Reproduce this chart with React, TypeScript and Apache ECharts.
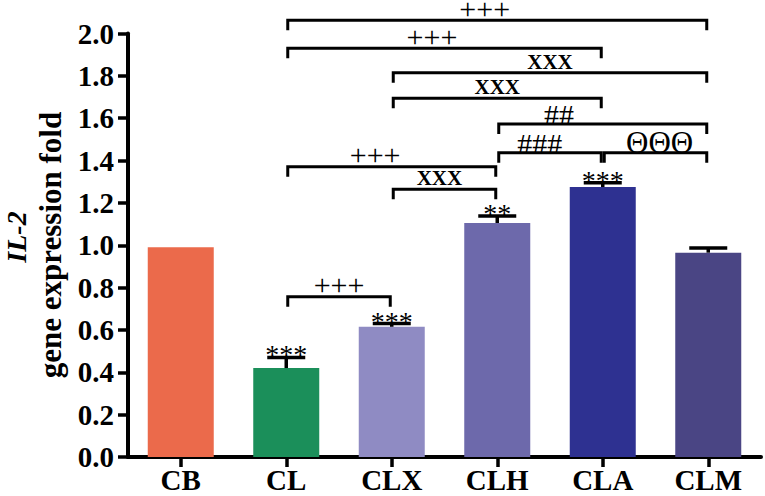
import React, { useEffect, useRef } from "react";
import * as echarts from "echarts";

const categories = ["CB", "CL", "CLX", "CLH", "CLA", "CLM"];
const means = [0.99, 0.42, 0.615, 1.105, 1.275, 0.965];
const errors = [0, 0.05, 0.015, 0.033, 0.02, 0.022];
const stars = ["", "***", "***", "**", "***", ""];
const barColors = ["#EB6A4B", "#1B8F5A", "#8F8BC3", "#6D69AB", "#2E3191", "#4A4584"];

const yMin = 0;
const yMax = 2.0;
const yStep = 0.2;

// significance brackets: from category index, to category index, height (fold units), label, label position along bracket
const bracketFrom = [1, 1, 2, 2, 3, 3, 4, 1, 2, 1];
const bracketTo = [5, 4, 5, 4, 5, 4, 5, 3, 3, 2];
const bracketHeight = [2.062, 1.93, 1.815, 1.694, 1.573, 1.437, 1.437, 1.371, 1.264, 0.757];
const bracketLabel = ["+++", "+++", "XXX", "XXX", "##", "###", "ΘΘΘ", "+++", "XXX", "+++"];
const bracketLabelPos = [0.47, 0.46, 0.5, 0.5, 0.29, 0.4, 0.54, 0.42, 0.45, 0.5];

const SERIF = "'Liberation Serif', 'Times New Roman', serif";

function labelStyle(label: string) {
  if (label.startsWith("X")) return { fontSize: 21, fontWeight: "bold", dy: -11 };
  if (label.startsWith("+")) return { fontSize: 30, fontWeight: "normal", dy: -12 };
  if (label.startsWith("#")) return { fontSize: 30, fontWeight: "normal", dy: -9.5 };
  return { fontSize: 31, fontWeight: "normal", dy: -10 };
}

export default function App() {
  const ref = useRef<HTMLDivElement>(null);
  useEffect(() => {
    const chart = echarts.init(ref.current!, null, { renderer: "svg" });
    const option: any = {
      animation: false,
      grid: { left: 128, right: 4, top: 33.5, bottom: 39, containLabel: false },
      xAxis: {
        type: "category",
        data: categories,
        axisLine: { show: true, lineStyle: { color: "#000", width: 4 } },
        axisTick: { show: true, alignWithLabel: true, length: 10, lineStyle: { color: "#000", width: 3.5 } },
        axisLabel: {
          color: "#000",
          fontFamily: SERIF,
          fontWeight: "bold",
          fontSize: 29,
          margin: 9,
          lineHeight: 28,
        },
      },
      yAxis: {
        type: "value",
        min: yMin,
        max: yMax,
        interval: yStep,
        axisLine: { show: true, lineStyle: { color: "#000", width: 4 } },
        axisTick: { show: true, length: 10, lineStyle: { color: "#000", width: 3.5 } },
        axisLabel: {
          color: "#000",
          fontFamily: SERIF,
          fontWeight: "bold",
          fontSize: 29,
          margin: 14,
          formatter: (v: number) => v.toFixed(1),
        },
        splitLine: { show: false },
      },
      graphic: [
        {
          type: "text",
          x: 16,
          y: 237,
          rotation: Math.PI / 2,
          style: {
            text: "IL-2",
            fontFamily: SERIF,
            fontStyle: "italic",
            fontWeight: "bold",
            fontSize: 28,
            lineHeight: 26,
            fill: "#000",
            align: "center",
            verticalAlign: "middle",
          },
        },
        {
          type: "text",
          x: 50,
          y: 245,
          rotation: Math.PI / 2,
          style: {
            text: "gene expression fold",
            fontFamily: SERIF,
            fontWeight: "bold",
            fontSize: 31,
            fill: "#000",
            align: "center",
            verticalAlign: "middle",
          },
        },
      ],
      series: [
        {
          type: "bar",
          barWidth: 66,
          data: means.map((v, i) => ({ value: v, itemStyle: { color: barColors[i] } })),
          z: 2,
        },
        {
          type: "custom",
          clip: false,
          z: 5,
          data: categories.map((_, i) => [i, means[i], errors[i]]),
          renderItem: (params: any, api: any) => {
            const i = api.value(0);
            const m = api.value(1);
            const e = api.value(2);
            const star = stars[params.dataIndex];
            const base = api.coord([i, m]);
            const top = api.coord([i, m + e]);
            const children: any[] = [];
            if (e > 0) {
              children.push({
                type: "line",
                shape: { x1: base[0], y1: base[1], x2: top[0], y2: top[1] },
                style: { stroke: "#000", lineWidth: 3.5 },
              });
              children.push({
                type: "line",
                shape: { x1: top[0] - 19, y1: top[1], x2: top[0] + 19, y2: top[1] },
                style: { stroke: "#000", lineWidth: 3.5 },
              });
            }
            if (star) {
              children.push({
                type: "text",
                x: top[0],
                y: top[1] - 2.5,
                style: {
                  text: star,
                  fontFamily: SERIF,
                  fontSize: 28,
                  fill: "#000",
                  align: "center",
                  verticalAlign: "middle",
                },
              });
            }
            return { type: "group", children };
          },
        },
        {
          type: "custom",
          clip: false,
          z: 6,
          data: bracketFrom.map((f, k) => [f, bracketTo[k], bracketHeight[k], bracketLabelPos[k]]),
          renderItem: (params: any, api: any) => {
            const a = api.coord([api.value(0), api.value(2)]);
            const b = api.coord([api.value(1), api.value(2)]);
            const lx = a[0] + 1.5;
            const rx = b[0] - 1.5;
            const y = a[1];
            const frac = api.value(3);
            const label = bracketLabel[params.dataIndex];
            const ls = labelStyle(label);
            return {
              type: "group",
              children: [
                {
                  type: "polyline",
                  shape: { points: [[lx, y + 10], [lx, y], [rx, y], [rx, y + 10]] },
                  style: { stroke: "#000", lineWidth: 3, fill: "none", lineJoin: "miter" },
                },
                {
                  type: "text",
                  x: lx + (rx - lx) * frac,
                  y: y + ls.dy,
                  style: {
                    text: label,
                    fontFamily: SERIF,
                    fontSize: ls.fontSize,
                    fontWeight: ls.fontWeight,
                    lineHeight: 18,
                    fill: "#000",
                    align: "center",
                    verticalAlign: "middle",
                  },
                },
              ],
            };
          },
        },
      ],
    };
    chart.setOption(option);
    return () => chart.dispose();
  }, []);
  return (
    <div
      ref={ref}
      style={{ position: "fixed", left: 0, top: 0, width: 765, height: 496, background: "#fff" }}
    />
  );
}
